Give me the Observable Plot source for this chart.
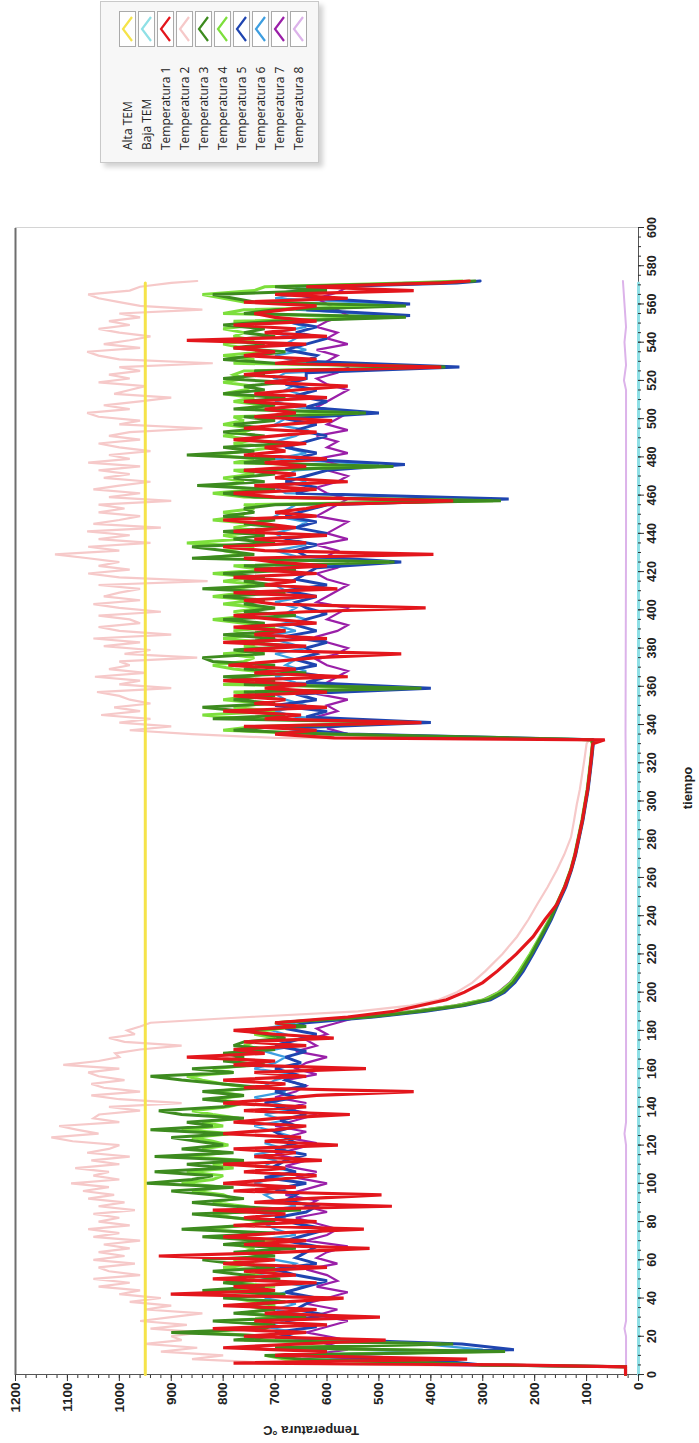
<!DOCTYPE html>
<html>
<head>
<meta charset="utf-8">
<script src="https://cdn.jsdelivr.net/npm/d3@7"></script>
<script src="https://cdn.jsdelivr.net/npm/@observablehq/plot@0.6"></script>
<style>
html,body{margin:0;padding:0;background:#fff;width:699px;height:1443px;overflow:hidden}
#wrap{position:absolute;left:0;top:0;width:1443px;height:699px;transform-origin:0 0;transform:translate(0px,1443px) rotate(-90deg);background:#fff}
#chart{position:absolute;left:0;top:0}
#legend{position:absolute;left:1280px;top:100px;width:160px;height:217px;background:#f7f7f7;border:1px solid #c9c9c9;box-shadow:-4px 4px 5px rgba(0,0,0,0.18);font-family:"Open Sans",sans-serif;font-size:12px;color:#222}
.lrow{position:absolute;left:0;width:160px;height:17px}
.ltxt{position:absolute;left:12px;top:0;line-height:17px;white-space:nowrap}
.lsw{position:absolute;left:115px;top:0;width:34px;height:15px;border:1px solid #aaa;background:#fff}
</style>
</head>
<body>
<div id="wrap"><div id="chart"></div><div id="legend"></div></div>
<script>
// ---- fine tiempo grid (s) for Temperatura 1-4 ----
const tiempoA = [
 0,4,5,
 6,8,10,12,14,16,18,20,22,24,26,28,30,32,34,36,38,40,42,44,46,48,50,52,54,56,58,60,62,64,
 66,68,70,72,74,76,78,80,82,84,86,88,90,92,94,96,98,100,102,104,106,108,110,112,114,116,118,120,122,124,
 126,128,130,132,134,136,138,140,142,144,146,148,150,152,154,156,158,160,162,164,166,168,170,172,174,176,178,180,182,184,
 187,190,193,196,200,205,211,220,229,238,246,255,264,272,281,290,298,306,315,322,330,
 332,333,
 335,337,339,341,343,345,347,349,351,353,
 355,357,359,361,363,365,367,369,371,373,
 375,377,379,381,383,385,387,389,391,393,
 395,397,399,401,403,405,407,409,411,413,
 415,417,419,421,423,425,427,429,431,433,
 435,437,439,441,443,445,447,449,451,453,
 455,457,459,461,463,465,467,469,471,473,
 475,477,479,481,483,485,487,489,491,493,
 495,497,499,501,503,505,507,509,511,513,
 515,517,519,521,523,525,527,529,531,533,
 535,537,539,541,543,545,547,549,551,553,
 555,557,559,561,563,565,567,569,
 571,572];

const temp1 = [
 25,25,250,
 780,330,700,600,800,650,487,760,640,820,
 600,740,498,720,620,800,680,568,901,700,
 780,620,820,660,760,600,800,700,924,680,
 518,760,640,800,700,529,780,620,760,680,
 820,475,740,640,495,780,660,800,700,620,
 760,680,800,610,740,660,780,579,720,650,
 800,700,640,780,700,556,760,640,800,700,
 620,433,760,680,800,640,740,525,780,700,
 870,720,780,640,760,587,700,780,660,700,
 560,471,420,370,335,300,272,235,203,180,157,142,130,122,115,108,103,98,94,91,88,
 65,586,
 700,620,760,418,720,650,800,600,740,680,
 780,600,720,640,800,560,740,660,790,700,
 620,457,760,640,800,600,740,680,780,620,
 700,780,640,410,700,760,620,780,580,720,
 660,780,620,740,600,700,760,395,720,800,
 640,740,600,780,660,720,800,620,700,640,
 600,357,700,780,620,740,560,700,660,760,
 640,720,600,760,680,720,640,780,700,620,
 760,680,590,740,660,720,640,760,600,740,
 660,560,720,640,760,680,380,700,620,760,
 700,780,640,870,600,720,660,780,620,700,
 740,680,620,760,560,700,433,640,
 380,326];

const temp2 = [
 25,25,500,
 700,860,800,920,850,950,880,900,840,940,
 870,960,900,840,950,900,980,920,1000,960,
 1040,980,1050,960,1020,1040,970,1050,990,1040,
 980,1030,960,1050,1000,1060,980,1040,1000,1050,
 970,1040,990,1060,1010,1070,1020,1093,1000,1050,
 1020,1085,1000,1054,980,1062,1020,1000,1090,1131,
 1040,1080,1116,1000,1050,1039,960,1020,880,1000,
 1054,960,1030,1054,990,1040,1060,1000,1108,1040,
 1000,1008,960,880,990,1020,970,985,960,940,
 750,540,440,385,350,320,295,262,234,212,195,175,157,143,130,124,119,113,108,104,100,
 95,700,
 860,980,900,1000,940,1035,960,1010,940,980,
 1000,1043,900,1000,960,1047,950,1020,980,1000,
 850,990,940,1030,960,1050,900,1000,1040,960,
 980,1040,920,1000,1050,960,1030,1000,960,1040,
 830,1000,1060,980,1040,1000,1060,1124,1000,1060,
 940,1040,980,1062,920,1050,1000,960,1040,990,
 1040,900,1020,960,1050,1000,940,1030,980,1040,
 960,1060,980,1020,940,1000,1040,960,1020,980,
 840,1000,960,1040,1062,980,1030,960,900,1010,
 980,950,1040,980,1020,960,1000,820,1000,1040,
 1062,960,1030,980,940,1000,1040,980,1020,960,
 1000,840,960,1000,1040,1060,980,960,
 900,850];

const temp3 = [
 25,25,300,
 395,650,720,257,700,357,780,700,900,720,
 700,820,640,780,700,760,680,800,680,840,
 720,800,690,760,820,700,780,840,700,780,
 660,800,720,840,700,880,760,700,780,860,
 650,780,860,760,820,900,780,947,860,820,
 932,800,870,760,932,780,880,800,850,900,
 790,940,820,870,760,880,924,800,760,840,
 760,840,720,800,880,940,780,860,720,800,
 760,800,700,780,760,680,720,760,640,700,
 520,420,340,290,262,242,226,206,188,170,157,142,130,122,115,108,103,98,94,91,88,
 90,241,
 600,780,700,430,820,680,760,840,700,780,
 700,760,418,760,700,800,640,760,700,820,
 840,720,780,660,760,700,800,680,760,720,
 800,660,760,700,760,720,800,680,840,700,
 760,720,800,660,760,470,860,740,800,860,
 700,780,720,800,680,760,700,800,740,760,
 700,265,740,800,700,850,720,780,700,760,
 472,760,700,870,740,800,680,760,720,800,
 720,780,700,760,525,780,700,760,680,800,
 720,760,680,800,720,740,372,700,800,740,
 680,780,720,800,700,760,720,800,700,448,
 760,700,448,740,780,820,600,700,
 400,315];

const temp4 = [
 25,25,300,
 420,680,720,300,700,380,760,720,840,760,
 720,800,680,760,720,700,740,780,700,820,
 700,780,740,760,700,800,740,780,720,760,
 740,780,700,800,740,840,760,720,780,820,
 720,760,820,780,800,860,800,880,820,800,
 870,780,820,760,870,800,840,790,820,860,
 780,880,800,840,770,820,860,790,760,820,
 760,820,740,800,840,870,780,820,740,790,
 760,790,720,760,740,700,740,720,660,700,
 530,430,350,298,268,246,230,209,190,172,158,143,131,123,116,109,104,99,95,92,89,
 92,300,
 620,800,740,450,760,840,700,780,720,800,
 740,780,440,800,740,760,700,780,820,760,
 740,800,700,760,720,800,740,780,700,760,
 820,740,780,720,800,740,820,760,780,720,
 800,740,820,720,780,480,840,760,800,740,
 870,760,800,720,780,740,820,760,800,740,
 760,280,760,820,740,800,760,800,740,780,
 490,780,740,820,760,700,780,740,800,760,
 740,800,760,780,540,760,720,780,740,800,
 760,740,800,760,780,760,400,780,740,800,
 720,760,800,740,780,760,800,740,780,470,
 800,760,470,760,800,840,740,720,
 450,340];

// ---- coarser tiempo grid (s) for Temperatura 5-7 ----
const tiempo = [
 0,4,5,
 7,10,13,16,19,22,25,28,31,34,37,40,43,46,49,52,55,58,61,64,
 67,70,73,76,79,82,85,88,91,94,97,100,103,106,109,112,115,118,121,124,
 127,130,133,136,139,142,145,148,151,154,157,160,163,166,169,172,175,178,181,184,
 187,190,193,196,200,205,211,220,229,238,246,255,264,272,281,290,298,306,315,322,330,
 332,333,
 335,338,341,344,347,350,353,356,359,362,
 365,368,371,374,377,380,383,386,389,392,
 395,398,401,404,407,410,413,416,419,422,
 425,428,431,434,437,440,443,446,449,452,
 455,458,461,464,467,470,473,476,479,482,
 485,488,491,494,497,500,503,506,509,512,
 515,518,521,524,527,530,533,536,539,542,
 545,548,551,554,557,560,563,566,569,
 571,572];

const temp5 = [
 25,25,300,
 380,620,240,340,660,700,620,680,600,660,640,620,680,640,600,660,700,620,660,640,
 620,680,640,600,660,700,640,620,680,660,700,640,720,660,700,680,640,700,660,680,
 700,660,690,640,680,720,660,700,640,680,660,700,650,680,640,700,660,620,680,640,
 510,410,335,285,258,238,222,203,185,168,155,140,129,121,114,107,102,97,93,90,87,
 88,230,
 560,680,400,640,600,700,620,660,400,640,
 600,680,620,660,620,640,600,680,620,660,
 640,600,640,660,620,680,600,660,640,620,
 457,640,660,620,680,600,660,620,680,640,
 600,250,660,620,680,640,600,450,660,620,
 680,640,600,660,620,680,500,640,600,660,
 620,680,640,640,345,640,620,680,640,600,
 660,620,680,440,640,440,620,680,600,
 350,305];

const temp6 = [
 25,25,350,
 450,680,300,420,700,660,720,680,640,700,660,720,680,640,700,740,680,660,720,700,
 680,740,660,700,720,680,740,660,700,720,680,740,700,660,720,700,740,680,720,660,
 700,740,680,720,660,700,740,680,720,700,660,740,700,680,720,660,700,680,720,660,
 520,425,345,295,265,244,228,207,189,171,157,142,130,122,115,108,103,98,94,91,88,
 90,280,
 600,680,460,660,700,640,680,700,460,660,
 700,640,680,660,700,640,680,720,660,700,
 640,680,660,700,640,680,700,660,640,700,
 500,660,700,640,680,700,660,640,700,680,
 660,300,680,700,640,680,660,500,700,640,
 680,700,660,640,700,680,560,660,700,640,
 680,660,700,680,400,660,700,640,680,660,
 700,640,680,480,660,480,700,640,660,
 420,330];

const temp7 = [
 25,25,400,
 480,640,560,600,580,640,600,560,620,580,640,600,560,620,580,600,640,580,620,600,
 560,640,600,580,620,660,600,640,620,680,640,600,660,620,680,640,700,660,620,680,
 640,700,660,620,680,640,700,660,640,680,620,660,640,600,660,620,640,600,620,580,
 540,440,355,300,270,248,230,208,190,172,158,143,131,123,116,109,104,99,95,92,89,
 92,300,
 560,600,540,620,580,600,560,620,540,600,
 580,560,600,620,580,560,600,620,580,560,
 600,580,560,620,600,580,560,600,620,580,
 560,600,580,620,560,600,580,560,620,600,
 580,560,600,620,580,560,600,580,620,560,
 600,580,620,560,600,580,560,620,600,580,
 560,600,620,580,560,600,580,620,560,600,
 580,620,600,560,580,600,620,580,560,
 450,340];

const tiempo8 = [0,20,24,28,120,126,132,300,335,440,515,520,528,540,548,572];
const temp8   = [24,24,27,24,24,27,24,24,25,24,24,28,24,27,24,30];

const tiempoLim = [0,571];
const altaTem = [950,950];
const bajaTem = [0,0];

const legendNames  = ["Alta TEM","Baja TEM","Temperatura 1","Temperatura 2","Temperatura 3","Temperatura 4","Temperatura 5","Temperatura 6","Temperatura 7","Temperatura 8"];
const legendColors = ["#f5e34a","#8fe0e6","#e3161c","#f6c9c9","#3d8b1f","#7ddf3c","#1f45b0","#3d9ee0","#9a1fa8","#dcb3ea"];

const minorTiempo = d3.range(0, 601, 5);
const majorTiempo = d3.range(0, 601, 20);
const minorTemp = d3.range(0, 1201, 20);
const majorTemp = d3.range(0, 1201, 100);

function rows(ts, vs){ const n=Math.min(ts.length, vs.length); const out=[]; for(let i=0;i<n;i++) out.push({t:ts[i], v:vs[i]}); return out; }

// bottom -> top draw order
const layers = [
  {t:tiempo8, v:temp8, c:"#dcb3ea", w:2},
  {t:tiempoLim, v:bajaTem, c:"#8fe0e6", w:3},
  {t:tiempoA, v:temp2, c:"#f6c9c9", w:2.2},
  {t:tiempoLim, v:altaTem, c:"#f5e34a", w:3},
  {t:tiempo, v:temp6, c:"#3d9ee0", w:2.2},
  {t:tiempo, v:temp7, c:"#9a1fa8", w:2.2},
  {t:tiempo, v:temp5, c:"#1f45b0", w:3},
  {t:tiempoA, v:temp4, c:"#7ddf3c", w:3},
  {t:tiempoA, v:temp3, c:"#3d8b1f", w:3},
  {t:tiempoA, v:temp1, c:"#e3161c", w:3.2}
];

const font = "'Liberation Sans', Arial, sans-serif";
const chart = Plot.plot({
  width: 1443, height: 699,
  marginLeft: 68, marginRight: 228, marginTop: 15, marginBottom: 61,
  x: {domain: [0, 600]},
  y: {domain: [0, 1200]},
  style: {background: "transparent", fontFamily: font, color: "#222", overflow: "visible"},
  marks: [
    Plot.ruleY([1200], {stroke: "#6e6e6e", strokeWidth: 2}),
    Plot.ruleX([600], {stroke: "#d4d4d4", strokeWidth: 1}),
    Plot.ruleX([0], {stroke: "#555", strokeWidth: 1}),
    Plot.ruleY([0], {stroke: "#555", strokeWidth: 1}),
    ...layers.map(L => Plot.line(rows(L.t, L.v), {x: "t", y: "v", stroke: L.c, strokeWidth: L.w, strokeLinejoin: "miter", strokeMiterlimit: 3})),
    Plot.axisX({ticks: minorTiempo, tickSize: 3, tickFormat: () => "", label: null, stroke: "#333"}),
    Plot.axisX({ticks: majorTiempo, tickSize: 6, tickPadding: 3, tickFormat: d => String(d), label: null, stroke: "#333", fontSize: 12.5, fontWeight: "bold"}),
    Plot.axisY({ticks: minorTemp, tickSize: 3, tickFormat: () => "", label: null, stroke: "#333"}),
    Plot.axisY({ticks: majorTemp, tickSize: 6, tickPadding: 2, tickFormat: d => String(d), label: null, stroke: "#333", fontSize: 13.5, fontWeight: "bold"}),
    Plot.text(["tiempo"], {text: d => d, frameAnchor: "bottom", textAnchor: "middle", lineAnchor: "bottom", dy: 53, dx: 13, fontSize: 13, fontWeight: "bold", fill: "#222"}),
    Plot.text(["Temperatura °C"], {text: d => d, frameAnchor: "left", textAnchor: "middle", lineAnchor: "middle", rotate: -90, dx: -56, dy: -16, fontSize: 13, fontWeight: "bold", fill: "#222"})
  ]
});
document.getElementById("chart").appendChild(chart);

const leg = document.getElementById("legend");
legendNames.forEach((name, i) => {
  const row = document.createElement("div");
  row.className = "lrow";
  row.style.top = (17.5 + 19 * i) + "px";
  const tx = document.createElement("div");
  tx.className = "ltxt";
  tx.textContent = name;
  const sw = document.createElement("div");
  sw.className = "lsw";
  sw.innerHTML = `<svg width="34" height="15"><polyline points="5,12 17,3 29,12" fill="none" stroke="${legendColors[i]}" stroke-width="2.2"/></svg>`;
  row.appendChild(tx); row.appendChild(sw);
  leg.appendChild(row);
});
</script>
</body>
</html>
